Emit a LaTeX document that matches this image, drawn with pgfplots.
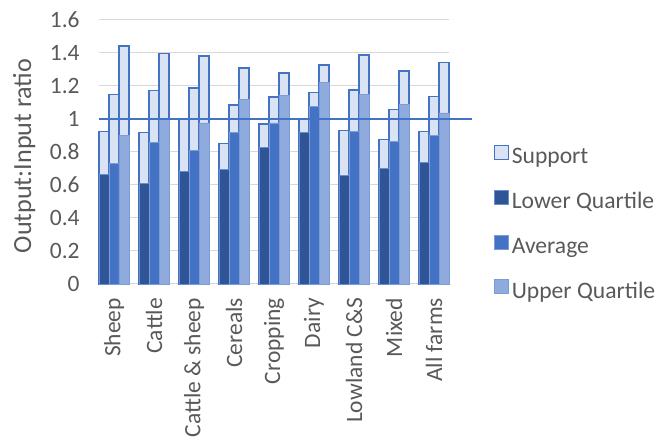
\documentclass[border=0pt]{standalone}
\usepackage{pgfplots}
\pgfplotsset{compat=1.18}
\usepackage{pgfplotstable}
\usepackage{fontspec}
\setmainfont{Carlito}
\definecolor{txt}{HTML}{595959}
\definecolor{gridc}{HTML}{D9D9D9}
\definecolor{supfill}{HTML}{DAE3F3}
\definecolor{blue}{HTML}{4472C4}
\definecolor{lq}{HTML}{2F5597}
\definecolor{uq}{HTML}{8FAADC}
\pgfplotsset{sq/.style={legend image code/.code={\draw[##1, line width=0.8pt] (0pt,-2pt) rectangle (10.5pt,8.5pt);}}}
\pgfplotstableread{
x lqb lqt avb avt uqb uqt
0 0.664 0.925 0.729 1.150 0.900 1.443
1 0.611 0.919 0.857 1.174 0.996 1.397
2 0.680 0.998 0.810 1.188 0.976 1.381
3 0.693 0.851 0.917 1.085 1.121 1.308
4 0.830 0.970 0.976 1.132 1.142 1.280
5 0.919 1.000 1.077 1.160 1.223 1.328
6 0.658 0.931 0.927 1.176 1.148 1.387
7 0.699 0.877 0.863 1.059 1.089 1.292
8 0.737 0.923 0.903 1.135 1.037 1.343
}\data
\begin{document}
\begin{tikzpicture}
\begin{axis}[
  scale only axis, width=262.5pt, height=198pt,
  xmin=-0.375, xmax=8.375, ymin=0, ymax=1.6,
  ytick={0,0.2,0.4,0.6,0.8,1,1.2,1.4,1.6},
  xtick={0,1,2,3,4,5,6,7,8},
  xticklabels={Sheep,Cattle,Cattle \& sheep,Cereals,Cropping,Dairy,Lowland C\&S,Mixed,All farms},
  /pgf/number format/assume math mode=true,
  yticklabel style={/pgf/number format/fixed,/pgf/number format/precision=1},
  ymajorgrids, grid style={draw=gridc, line width=0.75pt},
  axis line style={draw=none},
  major tick length=0pt,
  tick label style={font=\fontsize{17.6}{21}\selectfont, text=txt},
  xticklabel style={rotate=90, anchor=east},
  xticklabel shift=7pt,
  yticklabel shift=11pt,
  ylabel={Output:Input ratio},
  ylabel style={font=\fontsize{19.6}{23}\selectfont, text=txt, at={(axis description cs:-0.214,0.485)}, anchor=center},
  ybar, bar width=0.25,
  clip=false,
  legend style={at={(axis description cs:1.128,0.527)}, anchor=north west, draw=none, fill=none,
    font=\fontsize{17.7}{21}\selectfont, text=txt, row sep=16pt, inner sep=0pt,
    /tikz/every even column/.append style={column sep=-1.5pt}},
  legend cell align=left,
]
\addplot[bar shift=-0.25, fill=supfill, draw=blue, line width=1.1pt, sq] table[x=x, y=lqt]{\data};
\addlegendentry{Support}
\addplot[forget plot, bar shift=0, fill=supfill, draw=blue, line width=1.1pt] table[x=x, y=avt]{\data};
\addplot[forget plot, bar shift=0.25, fill=supfill, draw=blue, line width=1.1pt] table[x=x, y=uqt]{\data};
\addplot[bar shift=-0.25, fill=lq, draw=blue!80, line width=0.5pt, sq] table[x=x, y=lqb]{\data};
\addlegendentry{Lower Quartile}
\addplot[bar shift=0, fill=blue, draw=blue!70!white, line width=0.5pt, sq] table[x=x, y=avb]{\data};
\addlegendentry{Average}
\addplot[bar shift=0.25, fill=uq, draw=blue!70!white, line width=0.5pt, sq] table[x=x, y=uqb]{\data};
\addlegendentry{Upper Quartile}
\addplot[sharp plot, forget plot, draw=blue, line width=1.1pt] coordinates {(-0.375,1) (8.94,1)};
\end{axis}
\pgfresetboundingbox
\path (-74.25pt,-117.75pt) rectangle (423.75pt,213pt);
\end{tikzpicture}
\end{document}
